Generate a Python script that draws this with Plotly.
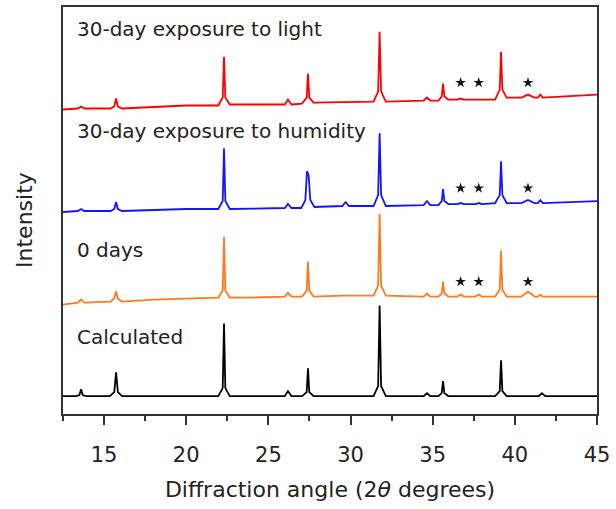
import plotly.graph_objects as go

# --- data (2θ in degrees, intensity in arbitrary stacked units) ---
calc_x = [12.5, 13.3, 13.5, 13.6, 13.7, 13.9, 15.35, 15.62, 15.73, 15.84, 16.1,
          21.95, 22.22, 22.3, 22.38, 22.65, 26.0, 26.19, 26.4, 27.05, 27.33, 27.41, 27.49, 27.75,
          31.4, 31.68, 31.77, 31.86, 32.15, 34.45, 34.65, 34.85, 35.35, 35.55, 35.63, 35.71, 35.95,
          38.8, 39.08, 39.16, 39.24, 39.5, 41.45, 41.65, 41.85, 45.0]
calc_y = [18, 18, 19, 25, 19, 18, 18, 22, 42, 22, 18,
          18, 26, 91, 26, 18, 18, 23, 18, 18, 22, 46, 22, 18,
          18, 28, 109, 28, 18, 18, 21, 18, 18, 21, 33, 21, 18,
          18, 23, 54, 23, 18, 18, 21, 18, 18]

d0_x = [12.5, 13.4, 13.6, 13.8, 15.4, 15.62, 15.73, 15.84, 16.1, 18.0, 20.0,
        21.95, 22.22, 22.3, 22.38, 22.65, 24.0, 26.0, 26.19, 26.4, 27.05, 27.33, 27.41, 27.49, 27.75,
        29.5, 31.4, 31.68, 31.77, 31.86, 32.15, 33.5, 34.45, 34.65, 34.85, 35.35, 35.55, 35.63, 35.71, 35.95,
        36.5, 36.7, 36.9, 37.6, 37.8, 38.0, 38.8, 39.08, 39.16, 39.24, 39.5,
        40.4, 40.8, 41.2, 41.4, 41.55, 41.7, 43.0, 45.0]
d0_y = [110, 112, 115, 112, 113, 116, 123, 116, 113, 115, 116,
        117, 124, 178, 124, 117, 117, 118, 122, 118, 118, 124, 153, 124, 118,
        119, 119, 129, 201, 129, 119, 118, 118, 121, 118, 118, 121, 133, 121, 118,
        118, 120, 118, 118, 120, 118, 118, 125, 164, 125, 118,
        118, 123, 118, 118, 120, 118, 118, 118]

hum_x = [12.5, 13.4, 13.6, 13.8, 15.4, 15.62, 15.73, 15.84, 16.1, 20.0,
         21.95, 22.22, 22.3, 22.38, 22.65, 26.0, 26.19, 26.4, 27.0, 27.25, 27.35, 27.45, 27.55, 27.8,
         29.5, 29.7, 29.9, 31.4, 31.68, 31.77, 31.86, 32.15, 34.45, 34.65, 34.85,
         35.35, 35.55, 35.63, 35.71, 35.95, 36.5, 36.7, 36.9, 37.6, 37.8, 38.0,
         38.8, 39.08, 39.16, 39.24, 39.5, 40.4, 40.8, 41.2, 41.4, 41.55, 41.7, 45.0]
hum_y = [203, 204, 206, 204, 204, 206, 213, 206, 204, 206,
         206, 214, 267, 214, 206, 207, 211, 207, 207, 215, 244, 240, 215, 208,
         209, 213, 209, 209, 220, 282, 220, 209, 210, 214, 210,
         210, 214, 226, 214, 211, 211, 212, 211, 211, 212, 211,
         212, 220, 254, 220, 212, 212, 215, 212, 212, 215, 212, 214]

light_x = [12.5, 13.4, 13.6, 13.8, 15.4, 15.62, 15.73, 15.84, 16.1, 20.0,
           21.95, 22.22, 22.3, 22.38, 22.65, 26.0, 26.19, 26.4, 27.05, 27.33, 27.41, 27.49, 27.75,
           31.4, 31.68, 31.77, 31.86, 32.15, 34.45, 34.65, 34.85, 35.35, 35.55, 35.63, 35.71, 35.95,
           36.5, 36.7, 36.9, 38.8, 39.08, 39.16, 39.24, 39.5, 40.4, 40.8, 41.2, 41.4, 41.55, 41.7, 45.0]
light_y = [306, 307, 309, 307, 307, 309, 317, 309, 307, 310,
           310, 318, 359, 318, 311, 311, 316, 311, 312, 318, 342, 318, 313,
           314, 324, 384, 324, 314, 315, 318, 315, 315, 319, 332, 319, 316,
           316, 317, 316, 316, 326, 364, 326, 318, 318, 321, 318, 318, 321, 318, 321]

star_x = [36.7, 37.8, 40.8] * 3
star_y = [133, 133, 133, 227, 227, 227, 333, 333, 333]

labels = ["30-day exposure to light", "30-day exposure to humidity", "0 days", "Calculated"]
label_y = [387, 284, 165, 77]
label_x = 13.2

FONT = "DejaVu Sans"
INK = "#222222"

fig = go.Figure()
series = [(calc_x, calc_y, "#000000"), (d0_x, d0_y, "#ff7a1a"),
          (hum_x, hum_y, "#1414ff"), (light_x, light_y, "#ff0000")]
for xs, ys, col in series:
    fig.add_trace(go.Scatter(x=xs, y=ys, mode="lines",
                             line=dict(color=col, width=1.8), showlegend=False))

fig.add_trace(go.Scatter(x=star_x, y=star_y, mode="markers",
                         marker=dict(symbol="star", size=8, color="#111111"),
                         showlegend=False))

for txt, yy in zip(labels, label_y):
    fig.add_annotation(x=label_x, y=yy, xref="x", yref="y", text=txt, showarrow=False,
                       xanchor="left", yanchor="middle",
                       font=dict(family=FONT, size=20, color=INK))

fig.add_annotation(x=-0.071, y=0.477, xref="paper", yref="paper", text="Intensity",
                   textangle=-90, showarrow=False, xanchor="center", yanchor="middle",
                   font=dict(family=FONT, size=22, color=INK))

fig.update_layout(
    width=616, height=509,
    margin=dict(l=63, r=19, t=5, b=95),
    paper_bgcolor="white", plot_bgcolor="white",
    font=dict(family=FONT, color=INK),
    xaxis=dict(range=[12.5, 45], tick0=0, dtick=5, ticks="outside", ticklen=9,
               tickwidth=1.5, tickcolor="#333333", showline=True, linecolor="#333333",
               linewidth=1.5, mirror=True, showgrid=False, zeroline=False,
               tickfont=dict(family=FONT, size=21, color=INK), ticklabelstandoff=12,
               minor=dict(dtick=2.5, tick0=0, ticks="outside", ticklen=5, tickwidth=1.5,
                          tickcolor="#333333", showgrid=False),
               title=dict(text="Diffraction angle (2<i>θ</i> degrees)", standoff=16,
                          font=dict(family=FONT, size=22, color=INK))),
    yaxis=dict(range=[0, 409], showticklabels=False, ticks="", showgrid=False,
               zeroline=False, showline=True, linecolor="#333333", linewidth=1.5,
               mirror=True),
)

fig.write_html("out.html")
